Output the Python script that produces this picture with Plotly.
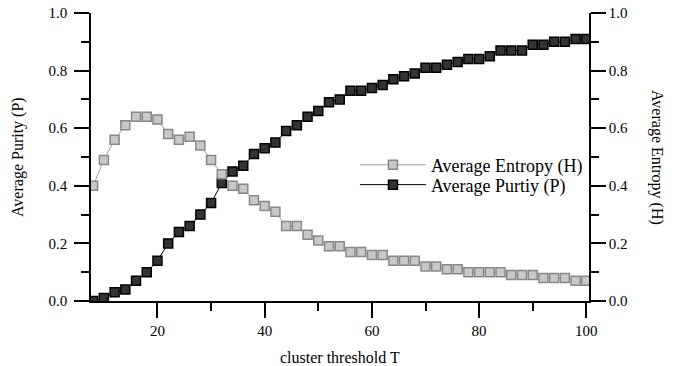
import plotly.graph_objects as go

threshold = list(range(8, 101, 2))
purity = [0.00, 0.01, 0.03, 0.04, 0.07, 0.10, 0.14, 0.20, 0.24, 0.26,
          0.30, 0.34, 0.41, 0.45, 0.47, 0.51, 0.53, 0.55, 0.59, 0.61,
          0.64, 0.66, 0.69, 0.70, 0.73, 0.73, 0.74, 0.75, 0.77, 0.78,
          0.79, 0.81, 0.81, 0.82, 0.83, 0.84, 0.84, 0.85, 0.87, 0.87,
          0.87, 0.89, 0.89, 0.90, 0.90, 0.91, 0.91]
entropy = [0.40, 0.49, 0.56, 0.61, 0.64, 0.64, 0.63, 0.58, 0.56, 0.57,
           0.54, 0.49, 0.44, 0.40, 0.39, 0.35, 0.33, 0.31, 0.26, 0.26,
           0.23, 0.21, 0.19, 0.19, 0.17, 0.17, 0.16, 0.16, 0.14, 0.14,
           0.14, 0.12, 0.12, 0.11, 0.11, 0.10, 0.10, 0.10, 0.10, 0.09,
           0.09, 0.09, 0.08, 0.08, 0.08, 0.07, 0.07]
y_ticks = [0, 0.2, 0.4, 0.6, 0.8, 1.0]
y_ticktext = ["0.0", "0.2", "0.4", "0.6", "0.8", "1.0"]
x_ticks = [20, 40, 60, 80, 100]
x_minor = [30, 50, 70, 90]

FONT = "Liberation Serif"

fig = go.Figure()
fig.add_trace(go.Scatter(
    x=threshold, y=entropy, name="Average Entropy (H)", yaxis="y2",
    mode="lines+markers", legend="legend",
    line=dict(color="#a0a0a0", width=1),
    marker=dict(symbol="square", size=9, color="#c8c8c8",
                line=dict(color="#888888", width=1.5)),
))
fig.add_trace(go.Scatter(
    x=threshold, y=purity, name="Average Purtiy (P)",
    mode="lines+markers", legend="legend2",
    line=dict(color="#000000", width=1),
    marker=dict(symbol="square", size=9, color="#333333",
                line=dict(color="#000000", width=1.5)),
))

yaxis_common = dict(
    range=[0, 1], tickvals=y_ticks, ticktext=y_ticktext,
    ticks="outside", ticklen=15, tickwidth=1.5, tickcolor="black",
    minor=dict(ticks="outside", ticklen=8, dtick=0.1, tick0=0,
               tickwidth=1.5, tickcolor="black", showgrid=False),
    showline=True, linecolor="black", linewidth=1.5,
    showgrid=False, zeroline=False, automargin=False,
    tickfont=dict(family=FONT, size=15, color="black"),
)

title_font = dict(family=FONT, size=16, color="black")
legend_common = dict(x=0.53, xanchor="left", yanchor="middle",
                     bgcolor="rgba(0,0,0,0)", itemwidth=66,
                     font=dict(family=FONT, size=18, color="black"))

fig.update_layout(
    width=678, height=366,
    margin=dict(l=91, r=89, t=13, b=65),
    paper_bgcolor="white", plot_bgcolor="white",
    font=dict(family=FONT, color="black"),
    xaxis=dict(
        range=[7.6, 100.5], tickvals=x_ticks,
        ticks="outside", ticklen=15, tickwidth=1.5, tickcolor="black",
        minor=dict(ticks="outside", ticklen=8, tickvals=x_minor,
                   tickwidth=1.5, tickcolor="black", showgrid=False),
        showline=True, linecolor="black", linewidth=1.5,
        showgrid=False, zeroline=False, automargin=False,
        tickfont=dict(family=FONT, size=15, color="black"),
    ),
    yaxis=dict(**yaxis_common, ticklabelstandoff=4),
    yaxis2=dict(**yaxis_common, overlaying="y", side="right"),
    legend=dict(**legend_common, y=0.472),
    legend2=dict(**legend_common, y=0.403),
    showlegend=True,
    annotations=[
        dict(text="cluster threshold T", xref="paper", yref="paper",
             x=0.5, y=0, yshift=-56, xanchor="center", yanchor="middle",
             showarrow=False, font=title_font),
        dict(text="Average Purity (P)", textangle=-90, xref="paper", yref="paper",
             x=0, y=0.5, xshift=-73, xanchor="center", yanchor="middle",
             showarrow=False, font=title_font),
        dict(text="Average Entropy (H)", textangle=90, xref="paper", yref="paper",
             x=1, y=0.5, xshift=68, xanchor="center", yanchor="middle",
             showarrow=False, font=title_font),
    ],
)

fig.write_html("out.html")
